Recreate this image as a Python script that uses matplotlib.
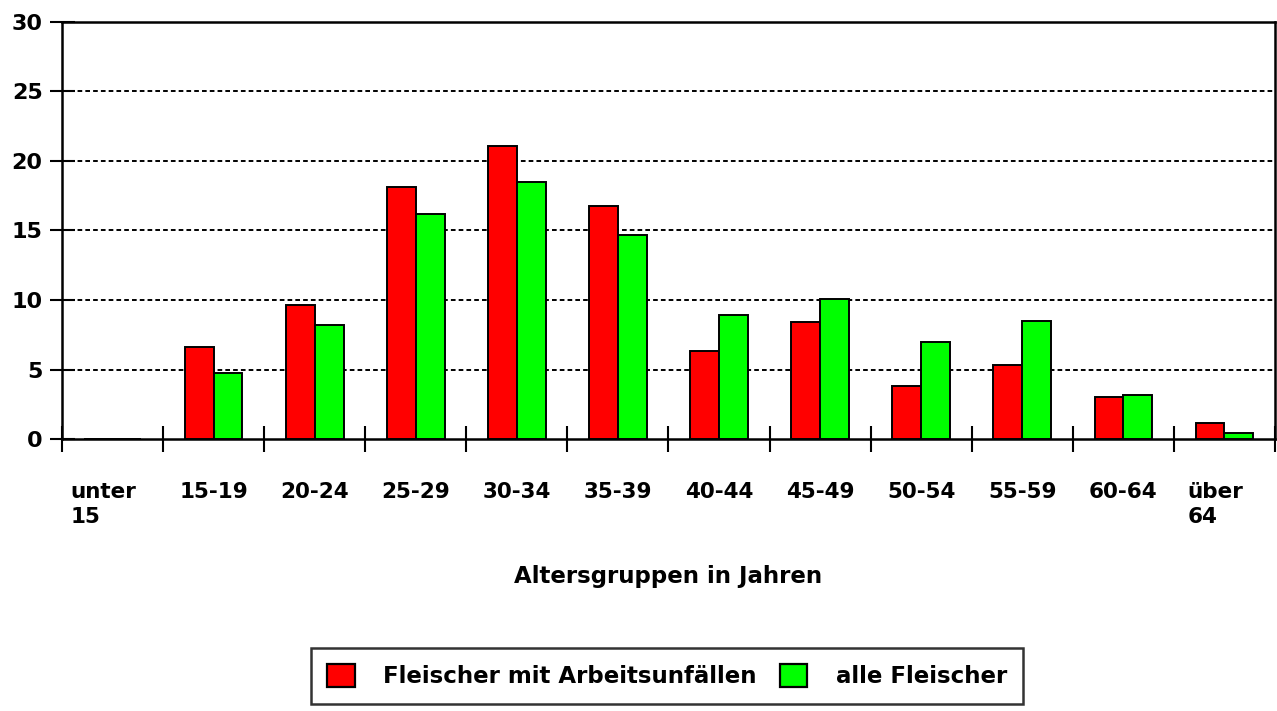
import numpy as np
import matplotlib.pyplot as plt
from matplotlib.patches import Patch
from matplotlib.transforms import ScaledTranslation

# Altersverteilung der Fleischer (Anteile in %)
age_groups = ["unter\n15", "15-19", "20-24", "25-29", "30-34", "35-39",
              "40-44", "45-49", "50-54", "55-59", "60-64", "über\n64"]
with_accidents = [0.0, 6.6, 9.65, 18.1, 21.1, 16.75, 6.3, 8.4, 3.8, 5.3, 3.0, 1.15]
all_butchers = [0.0, 4.75, 8.2, 16.2, 18.5, 14.65, 8.95, 10.1, 7.0, 8.5, 3.2, 0.4]

series_labels = ["Fleischer mit Arbeitsunfällen", "alle Fleischer"]
series_colors = ["#ff0000", "#00ff00"]

plt.rcParams['font.family'] = ['DejaVu Sans']
plt.rcParams['font.weight'] = 'bold'

fig = plt.figure(figsize=(12.77, 7.11), dpi=100)
ax = fig.add_axes([62 / 1277, 1 - 439 / 711, (1275 - 62) / 1277, (439 - 22) / 711])

x = np.arange(len(age_groups))
width = 0.285
ax.bar(x - width / 2, with_accidents, width, color=series_colors[0],
       edgecolor='black', linewidth=1.4, zorder=3)
ax.bar(x + width / 2, all_butchers, width, color=series_colors[1],
       edgecolor='black', linewidth=1.4, zorder=3)

ax.set_xlim(-0.5, len(age_groups) - 0.5)
ax.set_ylim(0, 30)
ax.set_yticks(range(0, 31, 5))
ax.set_yticklabels([str(v) for v in range(0, 31, 5)], fontsize=16, fontweight='bold')

# category boundaries carry the tick marks, labels sit between them
ax.set_xticks(np.arange(len(age_groups) + 1) - 0.5)
ax.set_xticklabels([])
ax.set_xticks(x, minor=True)
ax.set_xticklabels(age_groups, minor=True, fontsize=15.5, fontweight='bold',
                   multialignment='left', linespacing=1.3)
ax.tick_params(axis='x', which='major', direction='inout', length=19, width=1.5)
ax.tick_params(axis='x', which='minor', length=0, pad=31)
ax.tick_params(axis='y', direction='inout', length=18, width=1.5, pad=5)

# two-line labels hang slightly left of the category centre
for lbl in ax.get_xticklabels(minor=True):
    if "\n" in lbl.get_text():
        lbl.set_transform(lbl.get_transform() + ScaledTranslation(-9 / 100, 0, fig.dpi_scale_trans))

for v in range(5, 30, 5):
    ax.axhline(v, color='black', linewidth=1.4, dashes=(2.4, 1.6), zorder=1)

for side in ax.spines.values():
    side.set_linewidth(1.8)

fig.text(668 / 1277, 1 - 577 / 711, "Altersgruppen in Jahren", fontsize=16.5,
         fontweight='bold', ha='center', va='center')

handles = [Patch(facecolor=c, edgecolor='black', linewidth=1.6) for c in series_colors]
leg = fig.legend(handles, series_labels, loc='center', ncol=2,
                 bbox_to_anchor=(667 / 1277, 1 - 676 / 711),
                 prop={'size': 16.5, 'weight': 'bold'}, frameon=True, fancybox=False,
                 handlelength=1.2, handleheight=1.2, handletextpad=1.25,
                 columnspacing=1.0, borderpad=0.7, borderaxespad=0)
leg.get_frame().set_edgecolor('black')
leg.get_frame().set_linewidth(1.8)

fig.savefig("out.png", dpi=100)
